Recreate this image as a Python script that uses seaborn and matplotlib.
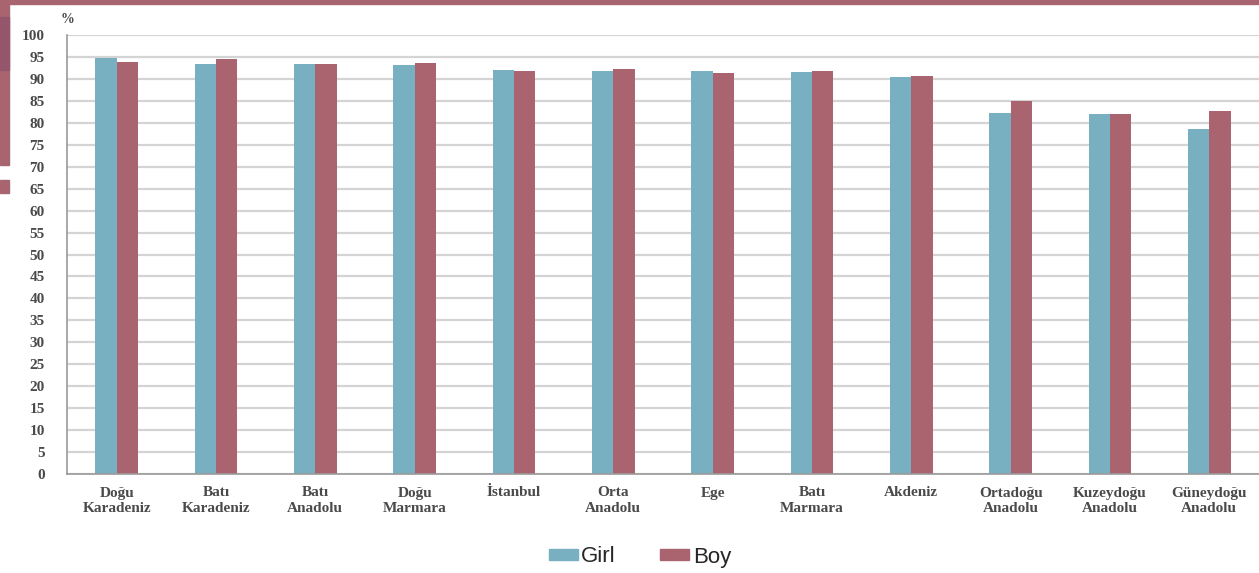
import numpy as np
import pandas as pd
import matplotlib
matplotlib.use("Agg")
import matplotlib.pyplot as plt
import seaborn as sns
from matplotlib.patches import Rectangle

regions = [
    "Doğu\nKaradeniz", "Batı\nKaradeniz", "Batı\nAnadolu", "Doğu\nMarmara",
    "İstanbul", "Orta\nAnadolu", "Ege", "Batı\nMarmara", "Akdeniz",
    "Ortadoğu\nAnadolu", "Kuzeydoğu\nAnadolu", "Güneydoğu\nAnadolu",
]
girl = [94.8, 93.4, 93.4, 93.2, 92.0, 91.9, 91.9, 91.6, 90.4, 82.3, 82.0, 78.7]
boy = [93.8, 94.6, 93.3, 93.7, 91.9, 92.2, 91.4, 91.7, 90.7, 85.0, 82.0, 82.7]
series = ["Girl", "Boy"]
colors = ["#78AFC1", "#A9646F"]

df = pd.DataFrame({
    "region": regions * 2,
    "value": girl + boy,
    "sex": ["Girl"] * len(regions) + ["Boy"] * len(regions),
})

sns.set_style("white")
plt.rcParams["font.family"] = ["Liberation Serif", "DejaVu Serif"]

fig = plt.figure(figsize=(12.59, 5.73), dpi=100)
ax = fig.add_axes([67 / 1259, 1 - 474 / 573, 1 - 67 / 1259, 439 / 573])

sns.barplot(data=df, x="region", y="value", hue="sex", hue_order=series,
            palette=colors, width=0.43, gap=0, saturation=1,
            linewidth=0, ax=ax, legend=False)

ax.set_ylim(0, 100)
ax.set_xlim(-0.5, len(regions) - 0.5)
ax.set_yticks(np.arange(0, 101, 5))
ax.yaxis.grid(True, color="#D4D4D4", linewidth=1.6)
ax.set_axisbelow(True)
ax.set_xlabel("")
ax.set_ylabel("")

for s in ["top", "right"]:
    ax.spines[s].set_visible(False)
for s in ["left", "bottom"]:
    ax.spines[s].set_color("#9A9A9A")
    ax.spines[s].set_linewidth(1.2)

ax.set_xticks(np.arange(-0.5, len(regions), 1), minor=True)
ax.tick_params(axis="x", which="major", length=0, pad=9, labelsize=11)
ax.tick_params(axis="x", which="minor", length=5, color="#9A9A9A", width=1)
ax.tick_params(axis="y", length=6, color="#9A9A9A", labelsize=11, pad=10)
for lbl in ax.get_xticklabels() + ax.get_yticklabels():
    lbl.set_fontweight("bold")
    lbl.set_color("#4A4A4A")

ax.text(0.0, 1.02, "%", transform=ax.transAxes, fontsize=10,
        fontweight="bold", color="#4A4A4A", ha="center", va="bottom")

handles = [Rectangle((0, 0), 1, 1, color=c) for c in colors]
fig.legend(handles, series, loc="center", bbox_to_anchor=(640 / 1259, 1 - 557 / 573),
           ncol=2, frameon=False, handlelength=1.3, handleheight=0.4,
           handletextpad=0.15, columnspacing=2.0,
           prop={"family": ["Liberation Sans Narrow", "Liberation Sans"], "size": 16})

# decorative page frame
frame = "#A8646F"
fig.patches.append(Rectangle((0, 1 - 4 / 573), 1, 4 / 573, transform=fig.transFigure,
                             color=frame, zorder=10))
fig.patches.append(Rectangle((0, 1 - 165 / 573), 9 / 1259, 165 / 573,
                             transform=fig.transFigure, color=frame, zorder=10))
fig.patches.append(Rectangle((0, 1 - 70 / 573), 9 / 1259, 53 / 573,
                             transform=fig.transFigure, color="#94566A", zorder=11))
fig.patches.append(Rectangle((0, 1 - 193 / 573), 9 / 1259, 13 / 573,
                             transform=fig.transFigure, color=frame, zorder=10))

fig.savefig("out.png", dpi=100)
